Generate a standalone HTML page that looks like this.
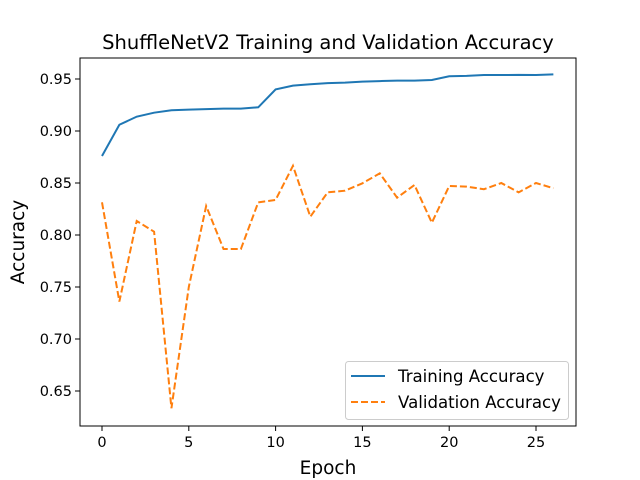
<!DOCTYPE html>
<html><head><meta charset="utf-8"><style>body{margin:0;background:#fff}svg{display:block;font-family:"DejaVu Sans","Liberation Sans",sans-serif}</style></head>
<body>
<svg id="chart" width="640" height="480"></svg>
<script>
const epochs=[0,1,2,3,4,5,6,7,8,9,10,11,12,13,14,15,16,17,18,19,20,21,22,23,24,25,26];
const trainAcc=[0.876,0.906,0.9138,0.9176,0.920,0.9205,0.921,0.9215,0.9215,0.9228,0.940,0.9436,0.945,0.946,0.9465,0.9475,0.948,0.9484,0.9484,0.949,0.9526,0.953,0.9538,0.9538,0.954,0.9538,0.9545];
const valAcc=[0.8314,0.736,0.8135,0.8032,0.6334,0.750,0.8279,0.7865,0.7865,0.8314,0.8337,0.8665,0.8176,0.841,0.8426,0.8497,0.8593,0.8359,0.8481,0.8118,0.8471,0.8465,0.844,0.850,0.841,0.850,0.845];
const xTicks=[0,5,10,15,20,25];
const yTicks=[0.65,0.70,0.75,0.80,0.85,0.90,0.95];
const NS="http://www.w3.org/2000/svg";
const svg=document.getElementById('chart');
const L=80,R=576,T=58,B=426;
const X=v=>102+v*(536-102)/25;
const Y=v=>79+(0.95-v)*1040;
function el(t,a,txt){const e=document.createElementNS(NS,t);for(const k in a)e.setAttribute(k,a[k]);if(txt!=null)e.textContent=txt;svg.appendChild(e);return e;}
let e;
e=el('text',{x:328,y:49,'text-anchor':'middle','font-size':19.5,fill:'#000'},'ShuffleNetV2 Training and Validation Accuracy');


xTicks.forEach(t=>{
 e=el('line',{x1:X(t),x2:X(t),y1:B,y2:B+5,stroke:'#000','stroke-width':1});
 
 
 e=el('text',{x:X(t),y:B+21,'text-anchor':'middle','font-size':14.5},String(t));
 
 
});
yTicks.forEach(t=>{
 e=el('line',{x1:L-5,x2:L,y1:Y(t),y2:Y(t),stroke:'#000','stroke-width':1});
 
 
 e=el('text',{x:L-8,y:Y(t)+5,'text-anchor':'end','font-size':14.5},t.toFixed(2));
 
 
});
e=el('text',{x:328,y:474,'text-anchor':'middle','font-size':18.5},'Epoch');


e=el('text',{x:24,y:242,'text-anchor':'middle','font-size':18.5,transform:'rotate(-90 24 242)'},'Accuracy');


e=el('polyline',{points:epochs.map((x,i)=>X(x)+','+Y(trainAcc[i])).join(' '),fill:'none',stroke:'#1f77b4','stroke-width':2});


e=el('polyline',{points:epochs.map((x,i)=>X(x)+','+Y(valAcc[i])).join(' '),fill:'none',stroke:'#ff7f0e','stroke-width':2,'stroke-dasharray':'7,3'});


e=el('rect',{x:L,y:T,width:R-L,height:B-T,fill:'none',stroke:'#000','stroke-width':1});


e=el('rect',{x:345.5,y:361.5,width:223,height:58,rx:3,fill:'#fff','fill-opacity':0.8,stroke:'#ccc'});


e=el('line',{x1:351,x2:385,y1:376,y2:376,stroke:'#1f77b4','stroke-width':2});


e=el('text',{x:398,y:382,'font-size':16.6},'Training Accuracy');


e=el('line',{x1:351,x2:385,y1:402,y2:402,stroke:'#ff7f0e','stroke-width':2,'stroke-dasharray':'7,3'});


e=el('text',{x:398,y:408,'font-size':16.6},'Validation Accuracy');


</script>
</body></html>
